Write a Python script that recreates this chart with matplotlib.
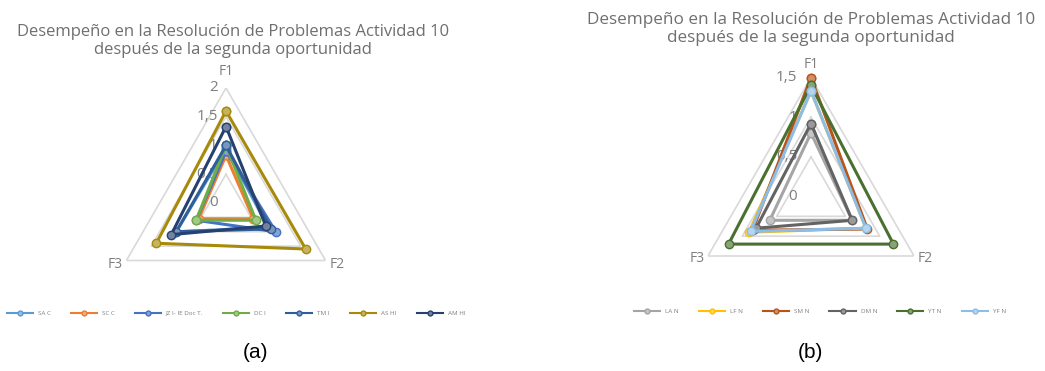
import matplotlib.pyplot as plt
import numpy as np
from matplotlib.lines import Line2D
from matplotlib.transforms import offset_copy
from matplotlib.colors import to_rgb

plt.rcParams["font.family"] = ["Open Sans", "DejaVu Sans"]

AXES_LABELS = ["F1", "F2", "F3"]
TITLE = "Desempeño en la Resolución de Problemas Actividad 10\ndespués de la segunda oportunidad"

# panel (a)
A_NAMES = ["SA C", "SC C", "JZ I- IE Doc T.", "DC I", "TM I", "AS HI", "AM HI"]
A_COLORS = ["#5b9bd5", "#ed7d31", "#4472c4", "#70ad47", "#2e5f9a", "#a88a0a", "#26406f"]
A_VALUES = [
    [0.95, 0.85, 1.0],
    [0.83, 0.55, 0.55],
    [0.9, 1.0, 0.6],
    [1.0, 0.6, 0.6],
    [1.0, 0.9, 1.0],
    [1.6, 1.6, 1.4],
    [1.33, 0.8, 1.1],
]
A_TICKS = [0, 0.5, 1, 1.5, 2]
A_TICK_LABELS = ["0", "0,5", "1", "1,5", "2"]

# panel (b)
B_NAMES = ["LA N", "LF N", "SM N", "DM N", "YT N", "YF N"]
B_COLORS = ["#a5a5a5", "#ffc000", "#b85419", "#636363", "#4a7030", "#8dbde6"]
B_VALUES = [
    [0.8, 0.6, 0.6],
    [1.33, 0.8, 0.9],
    [1.5, 0.82, 0.85],
    [0.92, 0.6, 0.8],
    [1.4, 1.2, 1.2],
    [1.33, 0.8, 0.88],
]
B_TICKS = [0, 0.5, 1, 1.5]
B_TICK_LABELS = ["0", "0,5", "1", "1,5"]

GRID = "#d9d9d9"
TEXT = "#7f7f7f"
W, H = 1045, 371


def lighten(c, f=0.35):
    r, g, b = to_rgb(c)
    return (r + (1 - r) * f, g + (1 - g) * f, b + (1 - b) * f)


def radar(fig, rect, names, colors, values, ticks, tick_labels, rmax, tick_dx, lab_off):
    ax = fig.add_axes(rect, projection="polar")
    ax.set_theta_zero_location("N")
    ax.set_theta_direction(-1)
    ax.set_ylim(0, rmax)
    ax.grid(False)
    ax.spines["polar"].set_visible(False)
    ax.set_xticks([])
    ax.set_yticks([])
    ax.patch.set_alpha(0)
    theta = np.linspace(0, 2 * np.pi, 4)
    for t in ticks[1:]:
        ax.plot(theta, [t] * 4, color=GRID, lw=1.2, zorder=1)
    for name, c, v in zip(names, colors, values):
        ax.plot(theta, v + v[:1], color=c, lw=2.2, marker="o", ms=6,
                mfc=lighten(c), mec=c, mew=1.0, zorder=3, clip_on=False)
    tr = offset_copy(ax.transData, fig=fig, x=tick_dx, y=0, units="points")
    for t, lab in zip(ticks, tick_labels):
        ax.text(0, t, lab, transform=tr, ha="right", va="center",
                fontsize=11, color=TEXT, zorder=2)
    for ang, lab, (dx, dy) in zip(theta[:3], AXES_LABELS, lab_off):
        trl = offset_copy(ax.transData, fig=fig, x=dx, y=dy, units="points")
        ax.text(ang, rmax, lab, transform=trl, ha="center", va="center",
                fontsize=10, color=TEXT)
    return ax


fig = plt.figure(figsize=(W / 100, H / 100), dpi=100)

# (a): centre (226, 203), radius 115 px
ca, ra = (226, 203), 115
radar(fig, [(ca[0] - ra) / W, (H - ca[1] - ra) / H, 2 * ra / W, 2 * ra / H],
      A_NAMES, A_COLORS, A_VALUES, A_TICKS, A_TICK_LABELS, 2, -6,
      [(0, 12), (8, -3), (-8, -3)])
# (b): centre (811, 196), radius 119 px
cb, rb = (811, 196.5), 119
radar(fig, [(cb[0] - rb) / W, (H - cb[1] - rb) / H, 2 * rb / W, 2 * rb / H],
      B_NAMES, B_COLORS, B_VALUES, B_TICKS, B_TICK_LABELS, 1.5, -10,
      [(0, 9), (8, -2), (-8, -2)])

fig.text(233 / W, 1 - 41 / H, TITLE, ha="center", va="center", fontsize=12,
         color="#6f6f6f", linespacing=1.1)
fig.text(811 / W, 1 - 29 / H, TITLE, ha="center", va="center", fontsize=12.3,
         color="#6f6f6f", linespacing=1.1)


def legend(names, colors, x, y, ncol):
    handles = [Line2D([], [], color=c, lw=1.5, marker="o", ms=3.5,
                      mfc=lighten(c), mec=c) for c in colors]
    fig.legend(handles, names, loc="center", bbox_to_anchor=(x / W, 1 - y / H),
               ncol=ncol, frameon=False, fontsize=4.5, labelcolor=TEXT,
               handlelength=4.2, columnspacing=3.2, handletextpad=0.8)


legend(A_NAMES, A_COLORS, 236, 313, 7)
legend(B_NAMES, B_COLORS, 820, 311, 6)

fig.text(255 / W, 1 - 352 / H, "(a)", ha="center", va="center", fontsize=15,
         family=["Liberation Sans", "DejaVu Sans"])
fig.text(810 / W, 1 - 352 / H, "(b)", ha="center", va="center", fontsize=15,
         family=["Liberation Sans", "DejaVu Sans"])

fig.savefig("out.png", dpi=100)
